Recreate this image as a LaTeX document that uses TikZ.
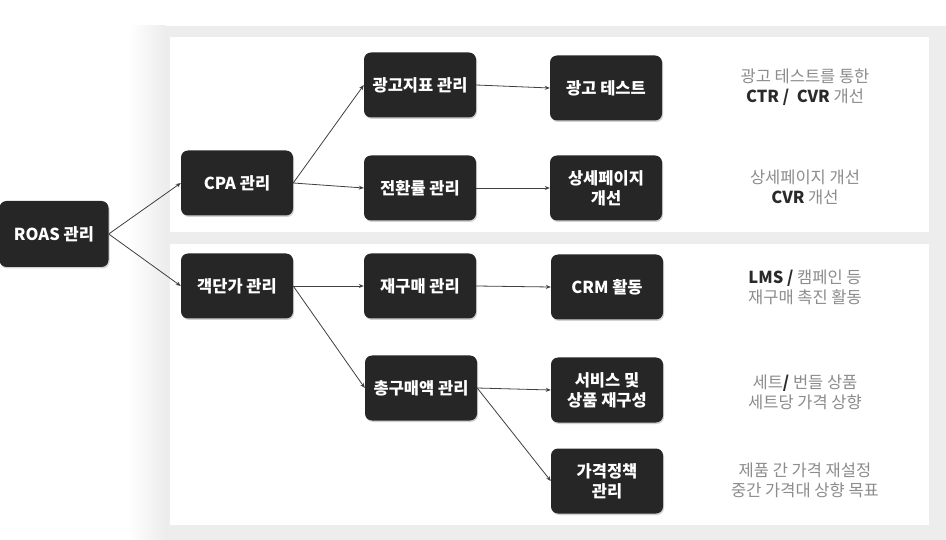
\documentclass[tikz,border=0pt]{standalone}
\usepackage{fontspec}
\setmainfont{Noto Sans CJK KR}
\usetikzlibrary{arrows.meta,shadows}
\definecolor{boxfill}{HTML}{262626}
\definecolor{panelgray}{HTML}{EDEDED}
\definecolor{notegray}{HTML}{8C8C8C}
\definecolor{notedark}{HTML}{2A2A2A}
\definecolor{arrowgray}{HTML}{404040}

\begin{document}
\begin{tikzpicture}[x=1pt,y=-1pt,
    stepbox/.style={rectangle, rounded corners=7pt, fill=boxfill, text=white,
        font=\bfseries\fontsize{16.5}{20}\selectfont, align=center,
        minimum width=112pt, minimum height=65pt, inner sep=2pt,
        drop shadow={shadow xshift=1pt,shadow yshift=-1.5pt,opacity=.35}},
    note/.style={text=notegray, font=\fontsize{16.5}{20}\selectfont, align=center},
    link/.style={draw=arrowgray, line width=.8pt, -{Stealth[length=5pt,width=4pt]}}
    ]
    \useasboundingbox (0,0) rectangle (946,540);

    %background panels
    \fill[panelgray] (165,26) rectangle (946,540);
    \shade[left color=white, right color=panelgray] (128,26) rectangle (165,540);
    \fill[white] (170,37) rectangle (929,232);
    \fill[white] (170,244) rectangle (929,525);

    %the tree
    \node[stepbox, minimum width=109pt, minimum height=66pt] (roas) at (54,234) {ROAS 관리};
    \node[stepbox] (cpa) at (237,183) {CPA 관리};
    \node[stepbox] (aov) at (237,286) {객단가 관리};
    \node[stepbox] (adkpi) at (420,85) {광고지표 관리};
    \node[stepbox] (conv) at (420,188) {전환률 관리};
    \node[stepbox] (rebuy) at (420,286) {재구매 관리};
    \node[stepbox] (total) at (421,388) {총구매액 관리};
    \node[stepbox] (adtest) at (606,88) {광고 테스트};
    \node[stepbox] (detail) at (606,188) {상세페이지\\개선};
    \node[stepbox] (crm) at (607,287) {CRM 활동};
    \node[stepbox] (bundle) at (607,390) {서비스 및\\상품 재구성};
    \node[stepbox] (price) at (607,481) {가격정책\\관리};

    %notes on the right
    \node[note] (nadtest) at (805,87) {광고 테스트를 통한\\{\color{notedark}\bfseries CTR /\ \ CVR} 개선};
    \node[note] (ndetail) at (805,187) {상세페이지 개선\\{\color{notedark}\bfseries CVR} 개선};
    \node[note] (ncrm) at (805,287) {{\color{notedark}\bfseries LMS /} 캠페인 등\\재구매 촉진 활동};
    \node[note] (nbundle) at (805,392) {세트{\color{notedark}\bfseries /} 번들 상품\\세트당 가격 상향};
    \node[note] (nprice) at (805,480) {제품 간 가격 재설정\\중간 가격대 상향 목표};

    %connectors
    \draw[link] (roas.east) -- (cpa.west);
    \draw[link] (roas.east) -- (aov.west);
    \draw[link] (cpa.east) -- (adkpi.west);
    \draw[link] (cpa.east) -- (conv.west);
    \draw[link] (aov.east) -- (rebuy.west);
    \draw[link] (aov.east) -- (total.west);
    \draw[link] (adkpi.east) -- (adtest.west);
    \draw[link] (conv.east) -- (detail.west);
    \draw[link] (rebuy.east) -- (crm.west);
    \draw[link] (total.east) -- (bundle.west);
    \draw[link] (total.east) -- (price.west);
\end{tikzpicture}
\end{document}
